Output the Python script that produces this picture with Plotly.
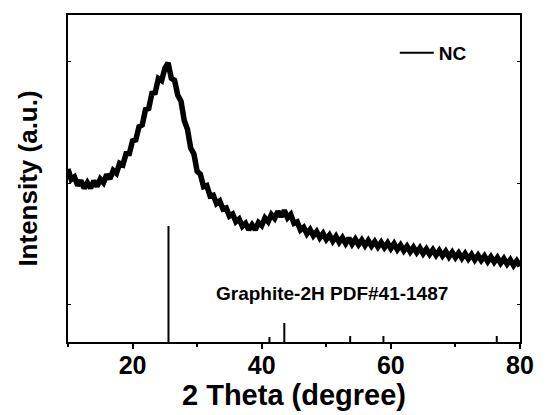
import numpy as np
import plotly.graph_objects as go

# XRD pattern of NC, 2theta 10..80 step 0.5
two_theta = np.linspace(10, 80, 141)
nc_intensity = [
    2116, 2030, 2050, 1980, 2020, 1957, 2003, 1958, 2017, 1973,
    2033, 2002, 2070, 2035, 2104, 2080, 2162, 2150, 2242, 2243,
    2348, 2356, 2465, 2479, 2605, 2615, 2740, 2745, 2862, 2844,
    2945, 2990, 2863, 2847, 2724, 2675, 2515, 2444, 2288, 2240,
    2096, 2072, 1970, 1979, 1893, 1900, 1831, 1852, 1786, 1795,
    1728, 1745, 1681, 1704, 1643, 1668, 1614, 1656, 1615, 1674,
    1650, 1712, 1681, 1740, 1708, 1766, 1723, 1774, 1713, 1742,
    1668, 1680, 1614, 1636, 1582, 1617, 1566, 1600, 1549, 1585,
    1535, 1571, 1521, 1561, 1512, 1550, 1502, 1546, 1497, 1537,
    1492, 1530, 1485, 1526, 1481, 1518, 1473, 1512, 1469, 1507,
    1460, 1501, 1452, 1489, 1443, 1479, 1433, 1471, 1427, 1465,
    1418, 1456, 1413, 1450, 1405, 1444, 1401, 1438, 1392, 1430,
    1387, 1424, 1380, 1419, 1374, 1411, 1366, 1405, 1362, 1398,
    1353, 1392, 1349, 1386, 1340, 1377, 1332, 1368, 1322, 1359,
    1317,
]

# Graphite-2H reference lines (position, stick height above baseline)
ref_pos = [25.56, 41.2, 43.5, 53.7, 58.85, 76.4]
ref_height = [956, 41, 157, 49, 49, 49]
y_base = 690
y_top = 3385

ref_x, ref_y = [], []
for p, h in zip(ref_pos, ref_height):
    ref_x += [p, p, None]
    ref_y += [y_base, y_base + h, None]

FONT = "Liberation Sans, Arial, sans-serif"

fig = go.Figure()
# thin copy of the pattern: provides the thin legend line, hidden under the thick trace
fig.add_trace(go.Scatter(
    x=two_theta, y=nc_intensity, mode="lines", name="NC", legendgroup="nc",
    line=dict(color="black", width=2),
))
fig.add_trace(go.Scatter(
    x=two_theta, y=nc_intensity, mode="lines", name="NC", legendgroup="nc",
    showlegend=False, line=dict(color="black", width=5.5),
))
fig.add_trace(go.Scatter(
    x=ref_x, y=ref_y, mode="lines", showlegend=False,
    line=dict(color="black", width=2),
))

fig.add_annotation(
    x=50.95, y=1093, xref="x", yref="y", text="Graphite-2H PDF#41-1487",
    showarrow=False, font=dict(family=FONT, size=19, color="black", weight="bold"),
)

fig.update_layout(
    width=546, height=415,
    margin=dict(l=68, r=19, t=15, b=73),
    plot_bgcolor="white", paper_bgcolor="white",
    showlegend=True,
    legend=dict(
        x=0.723, y=0.884, xanchor="left", yanchor="middle",
        bgcolor="rgba(0,0,0,0)", itemwidth=34,
        font=dict(family=FONT, size=19, color="black", weight="bold"),
    ),
)

fig.update_xaxes(
    range=[10, 80], tickvals=[20, 40, 60, 80],
    ticks="outside", ticklen=5, tickwidth=2, tickcolor="black",
    minor=dict(tickvals=[10, 30, 50, 70], ticks="outside", ticklen=3, tickwidth=2, tickcolor="black"),
    showline=True, linewidth=2, linecolor="black", mirror=True,
    showgrid=False, zeroline=False,
    ticklabelstandoff=-5,
    tickfont=dict(family=FONT, size=25, color="black", weight="bold"),
    title=dict(text="2 Theta (degree)", standoff=0,
               font=dict(family=FONT, size=29, color="black", weight="bold")),
)
fig.update_yaxes(
    range=[y_base, y_top], tickvals=[1000, 2000, 3000], showticklabels=False,
    ticks="inside", ticklen=3, tickwidth=1, tickcolor="black",
    showline=True, linewidth=2, linecolor="black", mirror="ticks",
    showgrid=False, zeroline=False,
    title=dict(text="Intensity (a.u.)", standoff=21,
               font=dict(family=FONT, size=26, color="black", weight="bold")),
)

fig.write_html("out.html")
